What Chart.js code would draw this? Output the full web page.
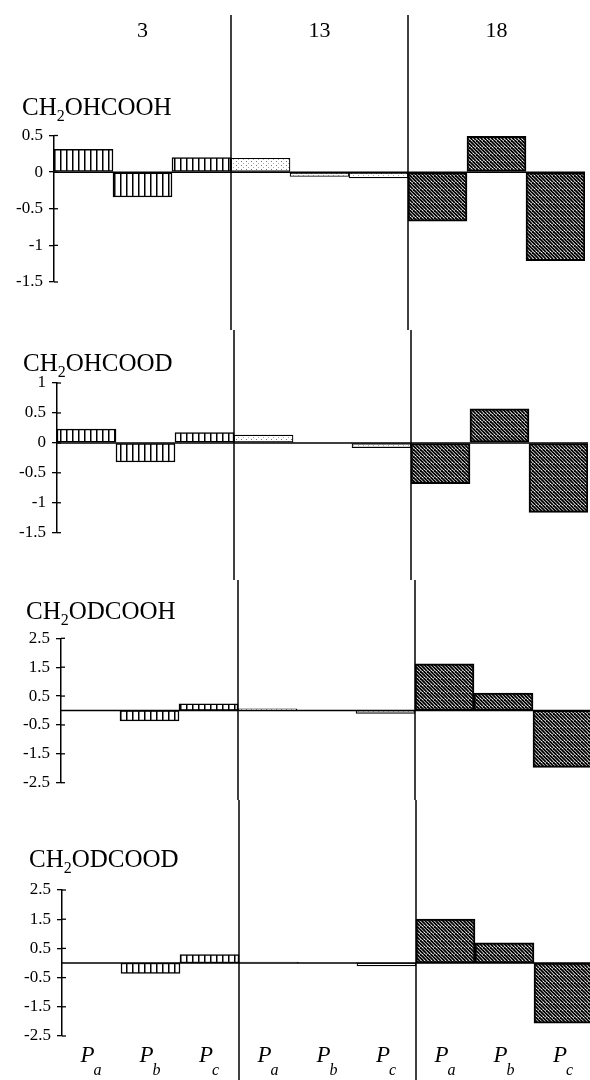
<!DOCTYPE html>
<html>
<head>
<meta charset="utf-8">
<script src="https://cdn.jsdelivr.net/npm/chart.js@4.4.1/dist/chart.umd.min.js"></script>
<style>
  html, body { margin: 0; padding: 0; background: #fff; overflow: hidden; width: 590px; height: 1080px; }
  canvas { position: absolute; left: 0; }
</style>
</head>
<body>
<canvas id="c1"></canvas>
<canvas id="c2"></canvas>
<canvas id="c3"></canvas>
<canvas id="c4"></canvas>
<script>
// column groups (top) and the three planes (bottom)
const groups = ['3', '13', '18'];
const planes = ['a', 'b', 'c'];
const categories = ['3 Pa', '3 Pb', '3 Pc', '13 Pa', '13 Pb', '13 Pc', '18 Pa', '18 Pb', '18 Pc'];

// values, one array per isotopomer
const ch2ohcooh = [0.31, -0.34, 0.20, 0.19, -0.06, -0.08, -0.67, 0.49, -1.21];
const ch2ohcood = [0.23, -0.32, 0.17, 0.13, 0.01, -0.08, -0.68, 0.57, -1.16];
const ch2odcooh = [0.00, -0.36, 0.23, 0.06, 0.01, -0.10, 1.62, 0.60, -1.97];
const ch2odcood = [0.00, -0.36, 0.29, 0.03, 0.01, -0.10, 1.50, 0.69, -2.06];

// y tick values of each panel
const ticks1 = [0.5, 0, -0.5, -1, -1.5];
const ticks2 = [1, 0.5, 0, -0.5, -1, -1.5];
const ticks3 = [2.5, 1.5, 0.5, -0.5, -1.5, -2.5];
const ticks4 = [2.5, 1.5, 0.5, -0.5, -1.5, -2.5];

// panel titles: [before subscript, subscript, after]
const title1 = ['CH', '2', 'OHCOOH'];
const title2 = ['CH', '2', 'OHCOOD'];
const title3 = ['CH', '2', 'ODCOOH'];
const title4 = ['CH', '2', 'ODCOOD'];

const SERIF = '"Liberation Serif", "Times New Roman", serif';
const CW = 600;      // canvas width
const PLOT_W = 531;  // 9 categories, ~59px each

// layout of the four stacked panels (page pixels)
const panels = [
  { id: 'c1', top: 0,   height: 330, axisX: 54, plotTop: 135.5, plotBottom: 282,   titleX: 22, titleY: 115, title: title1, values: ch2ohcooh, ticks: ticks1, header: true },
  { id: 'c2', top: 330, height: 250, axisX: 57, plotTop: 383,   plotBottom: 532.7, titleX: 23, titleY: 371, title: title2, values: ch2ohcood, ticks: ticks2 },
  { id: 'c3', top: 580, height: 220, axisX: 61, plotTop: 638.3, plotBottom: 782.7, titleX: 26, titleY: 619, title: title3, values: ch2odcooh, ticks: ticks3 },
  { id: 'c4', top: 800, height: 280, axisX: 62, plotTop: 890,   plotBottom: 1036,  titleX: 29, titleY: 867, title: title4, values: ch2odcood, ticks: ticks4, footer: true }
];

// fill patterns
function makePattern(w, h, draw) {
  const c = document.createElement('canvas');
  c.width = w; c.height = h;
  const g = c.getContext('2d');
  g.fillStyle = '#fff';
  g.fillRect(0, 0, w, h);
  draw(g);
  return g.createPattern(c, 'repeat');
}
const stripes = makePattern(6, 6, g => {
  g.fillStyle = '#000';
  g.fillRect(0, 0, 1.5, 6);
});
const dots = makePattern(5, 4, g => {
  g.fillStyle = '#777';
  g.fillRect(1, 1, 1, 1);
  g.fillStyle = '#aaa';
  g.fillRect(3, 3, 1, 1);
});
const hatch = makePattern(7, 7, g => {
  g.strokeStyle = '#000';
  g.lineWidth = 1.9;
  for (const o of [-7, -3.5, 0, 3.5, 7]) {
    g.beginPath(); g.moveTo(o, 0); g.lineTo(o + 7, 7); g.stroke();
  }
});
const fills = [stripes, stripes, stripes, dots, dots, dots, hatch, hatch, hatch];
const borders = [1.5, 1.5, 1.5, 1.2, 1.2, 1.2, 2, 2, 2];

function line(ctx, x1, y1, x2, y2, w) {
  ctx.beginPath();
  ctx.lineWidth = w;
  ctx.moveTo(x1, y1);
  ctx.lineTo(x2, y2);
  ctx.stroke();
}

function deco(p) {
  return {
    id: 'deco_' + p.id,
    afterDraw(chart) {
      const ctx = chart.ctx;
      const area = chart.chartArea;
      const xs = chart.scales.x, ys = chart.scales.y;
      ctx.save();
      ctx.strokeStyle = '#000';
      ctx.fillStyle = '#000';

      // inner half of the crossing ticks
      p.ticks.forEach(v => {
        const y = ys.getPixelForValue(v);
        line(ctx, area.left, y, area.left + 4, y, 1.3);
      });

      // zero base line
      const y0 = ys.getPixelForValue(0);
      line(ctx, area.left, y0, area.right, y0, 1.5);

      // separators between the groups
      [3, 6].forEach(k => {
        const x = (xs.getPixelForValue(k - 1) + xs.getPixelForValue(k)) / 2;
        line(ctx, x, p.header ? 15 : 0, x, chart.height, 1.5);
      });

      // panel title with subscript
      const ty = p.titleY - p.top;
      ctx.textBaseline = 'alphabetic';
      ctx.textAlign = 'left';
      let x = p.titleX;
      ctx.font = '25px ' + SERIF;
      ctx.fillText(p.title[0], x, ty);
      x += ctx.measureText(p.title[0]).width;
      ctx.font = '16px ' + SERIF;
      ctx.fillText(p.title[1], x, ty + 6);
      x += ctx.measureText(p.title[1]).width;
      ctx.font = '25px ' + SERIF;
      ctx.fillText(p.title[2], x, ty);

      // group numbers on top
      if (p.header) {
        ctx.font = '22px ' + SERIF;
        ctx.textAlign = 'center';
        groups.forEach((g, i) => {
          ctx.fillText(g, xs.getPixelForValue(i * 3 + 1), 37);
        });
      }

      // P_a, P_b, P_c under each bar
      if (p.footer) {
        const by = 1062 - p.top;
        categories.forEach((c, i) => {
          const sub = planes[i % 3];
          ctx.font = 'italic 23px ' + SERIF;
          const wP = ctx.measureText('P').width;
          ctx.font = 'italic 16px ' + SERIF;
          const wS = ctx.measureText(sub).width;
          const cx = xs.getPixelForValue(i);
          const left = cx - (wP + wS) / 2;
          ctx.textAlign = 'left';
          ctx.font = 'italic 23px ' + SERIF;
          ctx.fillText('P', left, by);
          ctx.font = 'italic 16px ' + SERIF;
          ctx.fillText(sub, left + wP - 1, by + 13);
        });
      }
      ctx.restore();
    }
  };
}

panels.forEach(p => {
  const canvas = document.getElementById(p.id);
  canvas.width = CW;
  canvas.height = p.height;
  canvas.style.top = p.top + 'px';

  new Chart(canvas, {
    type: 'bar',
    data: {
      labels: categories,
      datasets: [{
        data: p.values,
        backgroundColor: fills,
        borderColor: '#000',
        borderWidth: borders,
        borderSkipped: false,
        categoryPercentage: 1,
        barPercentage: 1
      }]
    },
    options: {
      responsive: false,
      animation: false,
      layout: {
        padding: {
          left: 0,
          right: CW - p.axisX - PLOT_W,
          top: p.plotTop - p.top,
          bottom: p.top + p.height - p.plotBottom
        }
      },
      plugins: { legend: { display: false }, tooltip: { enabled: false } },
      scales: {
        x: { display: false },
        y: {
          min: p.ticks[p.ticks.length - 1],
          max: p.ticks[0],
          afterBuildTicks: s => { s.ticks = p.ticks.map(v => ({ value: v })); },
          afterFit: s => { s.width = p.axisX; },
          ticks: {
            autoSkip: false,
            color: '#000',
            padding: 6,
            font: { family: SERIF, size: 17 },
            callback: v => String(v)
          },
          grid: { drawOnChartArea: false, tickLength: 5, color: '#000', lineWidth: 1.3 },
          border: { color: '#000', width: 1.5 }
        }
      }
    },
    plugins: [deco(p)]
  });
});
</script>
</body>
</html>
